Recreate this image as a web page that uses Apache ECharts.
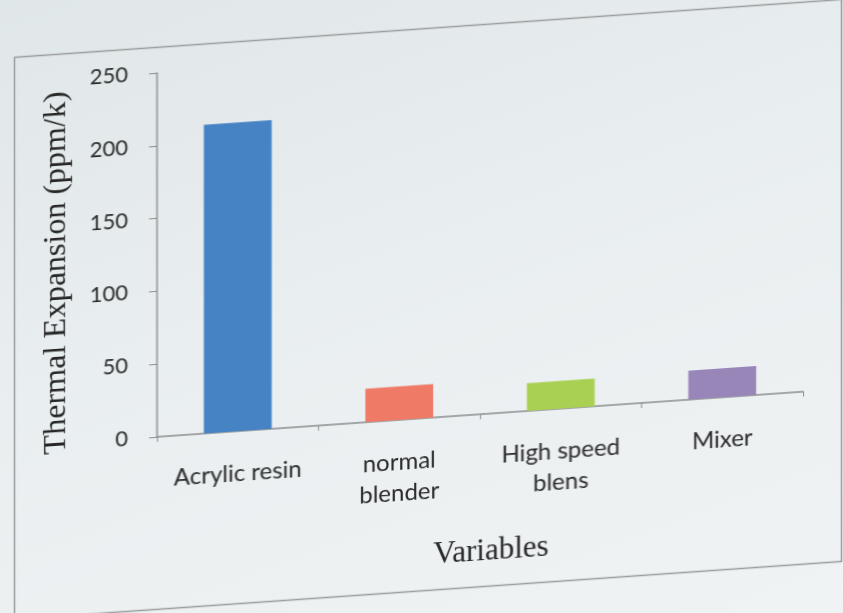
<!DOCTYPE html>
<html>
<head>
<meta charset="utf-8">
<script src="https://cdn.jsdelivr.net/npm/echarts@6/dist/echarts.min.js"></script>
<style>
  html, body { margin: 0; padding: 0; }
  body {
    width: 843px; height: 613px; overflow: hidden;
    background: linear-gradient(160deg, #e0e7e9 0%, #e9eef0 45%, #f0f3f4 100%);
  }
  #chart {
    width: 843px; height: 613px;
    transform: skewY(-4deg);
    transform-origin: 155px 437px;
  }
</style>
</head>
<body>
<div id="chart"></div>
<script>
// Thermal expansion per preparation method
const categories = ['Acrylic resin', 'normal\nblender', 'High speed\nblens', 'Mixer'];
const expansion = [212, 23, 19, 20];
const barColors = ['#4683c4', '#ef7a66', '#a9d053', '#9886b8'];
const yTicks = { min: 0, max: 250, step: 50 };

const chart = echarts.init(document.getElementById('chart'), null, { renderer: 'canvas' });

chart.setOption({
  backgroundColor: 'transparent',
  animation: false,
  graphic: [{
    type: 'rect',
    left: 12, top: 45,
    shape: { width: 827, height: 562 },
    style: { fill: 'none', stroke: '#9a9c9c', lineWidth: 1.5 },
    silent: true
  }],
  grid: { left: 157, right: 40, top: 73, bottom: 176 },
  xAxis: {
    type: 'category',
    data: categories,
    name: 'Variables',
    nameLocation: 'middle',
    nameGap: 122,
    nameTextStyle: {
      fontFamily: 'Liberation Serif', fontSize: 31, color: '#262626',
      padding: [0, 0, 0, 22]
    },
    axisLine: { lineStyle: { color: '#8c8e8e', width: 1.5 } },
    axisTick: { show: true, alignWithLabel: false, length: 5, lineStyle: { color: '#8c8e8e' } },
    axisLabel: {
      fontFamily: 'Lato', fontSize: 24, color: '#2a2a2a',
      lineHeight: 31, margin: 27, interval: 0
    }
  },
  yAxis: {
    type: 'value',
    min: yTicks.min, max: yTicks.max, interval: yTicks.step,
    name: 'Thermal Expansion (ppm/k)',
    nameLocation: 'middle',
    nameGap: 84,
    nameTextStyle: {
      fontFamily: 'Liberation Serif', fontSize: 32, color: '#262626',
      padding: [0, 22, 0, 0]
    },
    splitLine: { show: false },
    axisLine: { show: true, lineStyle: { color: '#8c8e8e', width: 1.5 } },
    axisTick: { show: true, inside: false, length: 8, lineStyle: { color: '#8c8e8e' } },
    axisLabel: { fontFamily: 'Lato', fontSize: 22, color: '#2a2a2a', margin: 29 }
  },
  series: [{
    type: 'bar',
    data: expansion.map((v, i) => ({ value: v, itemStyle: { color: barColors[i] } })),
    barWidth: '42%'
  }]
});
</script>
</body>
</html>
